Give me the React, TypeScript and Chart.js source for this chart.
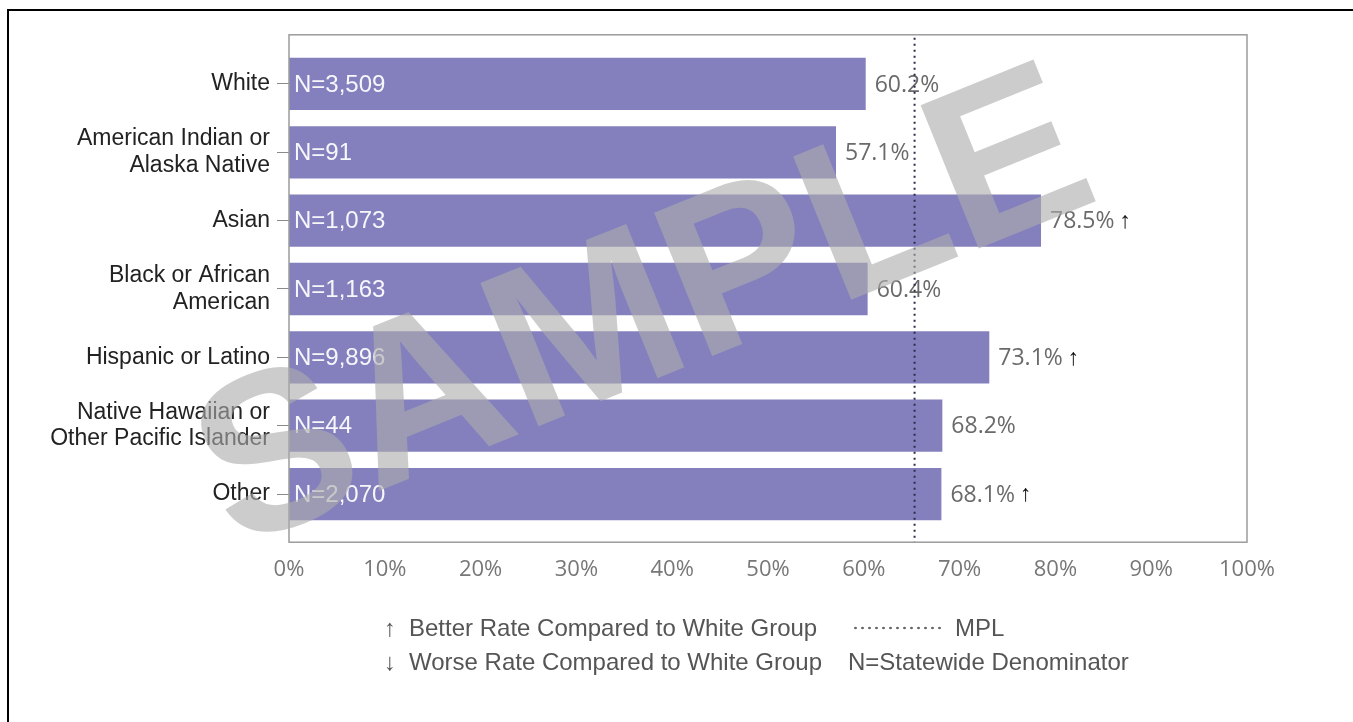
import React, { useEffect, useRef } from "react";
import { Chart, registerables } from "chart.js";

Chart.register(...registerables);

const PAGE_W = 1353;
const PAGE_H = 722;

const categoryLabels: string[][] = [
  ["White"],
  ["American Indian or", "Alaska Native"],
  ["Asian"],
  ["Black or African", "American"],
  ["Hispanic or Latino"],
  ["Native Hawaiian or", "Other Pacific Islander"],
  ["Other"],
];
const rateValues: number[] = [60.2, 57.1, 78.5, 60.4, 73.1, 68.2, 68.1];
const denominators: string[] = ["3,509", "91", "1,073", "1,163", "9,896", "44", "2,070"];
const betterThanWhite: boolean[] = [false, false, true, false, true, false, true];
const mplRate = 65.3;
const xTickValues: number[] = [0, 10, 20, 30, 40, 50, 60, 70, 80, 90, 100];
const watermarkText = "SAMPLE";

const BAR_COLOR = "#8480BE";

const overlayPlugin = {
  id: "overlay",
  afterDatasetsDraw(chart: any) {
    const ctx = chart.ctx as CanvasRenderingContext2D;
    const xs = chart.scales.x;
    const ys = chart.scales.y;
    const area = chart.chartArea;
    const frameTop = area.top - 15;
    const frameBottom = area.bottom + 14;

    ctx.save();
    // N labels inside bars
    ctx.font = "24px 'Liberation Sans', Arial, sans-serif";
    ctx.fillStyle = "rgba(255,255,255,0.93)";
    ctx.textAlign = "left";
    ctx.textBaseline = "middle";
    denominators.forEach((n, i) => {
      ctx.fillText("N=" + n, xs.getPixelForValue(0) + 5, ys.getPixelForValue(i) + 1);
    });

    // value labels with arrows
    rateValues.forEach((v, i) => {
      const x = xs.getPixelForValue(v) + 9;
      const y = ys.getPixelForValue(i) + 1;
      ctx.font = "23px 'Open Sans', sans-serif";
      ctx.fillStyle = "#6a6a6a";
      const txt = v.toFixed(1) + "%";
      ctx.fillText(txt, x, y);
      if (betterThanWhite[i]) {
        const w = ctx.measureText(txt).width;
        ctx.font = "23px 'Liberation Sans', Arial, sans-serif";
        ctx.fillStyle = "#111";
        ctx.fillText("\u2191", x + w + 5, y);
      }
    });

    // MPL dotted line
    const mx = xs.getPixelForValue(mplRate);
    ctx.strokeStyle = "#2c2c48";
    ctx.lineWidth = 2;
    ctx.setLineDash([2, 4]);
    ctx.beginPath();
    ctx.moveTo(mx, frameTop + 3);
    ctx.lineTo(mx, frameBottom);
    ctx.stroke();
    ctx.setLineDash([]);

    // plot frame
    ctx.strokeStyle = "#9c9c9c";
    ctx.lineWidth = 1.5;
    ctx.strokeRect(area.left, frameTop, area.right - area.left, frameBottom - frameTop);
    ctx.restore();
  },
  afterDraw(chart: any) {
    const ctx = chart.ctx as CanvasRenderingContext2D;
    ctx.save();
    ctx.translate(646, 316);
    ctx.rotate((-22 * Math.PI) / 180);
    ctx.font = "bold 225px 'Liberation Sans', Arial, sans-serif";
    ctx.textAlign = "center";
    ctx.textBaseline = "middle";
    ctx.fillStyle = "rgba(171,171,171,0.61)";
    ctx.fillText(watermarkText, 0, 0);
    ctx.restore();
  },
};

export default function App() {
  const canvasRef = useRef<HTMLCanvasElement | null>(null);

  useEffect(() => {
    if (!canvasRef.current) return;
    const chart = new Chart(canvasRef.current, {
      type: "bar",
      data: {
        labels: categoryLabels as any,
        datasets: [
          {
            data: rateValues,
            backgroundColor: BAR_COLOR,
            borderWidth: 0,
            categoryPercentage: 1,
            barPercentage: 0.765,
          },
        ],
      },
      options: {
        indexAxis: "y",
        responsive: false,
        animation: false,
        layout: { padding: { top: 49.8, right: 106, bottom: 133.8, left: 0 } },
        plugins: { legend: { display: false }, tooltip: { enabled: false } },
        scales: {
          x: {
            type: "linear",
            min: 0,
            max: 100,
            afterBuildTicks: (s: any) => {
              s.ticks = xTickValues.map((v) => ({ value: v }));
            },
            ticks: {
              callback: (v: any) => v + "%",
              color: "#777",
              font: { family: "'Open Sans', sans-serif", size: 22 },
              padding: 28,
              maxRotation: 0,
              autoSkip: false,
            },
            grid: { display: false, drawTicks: false },
            border: { display: false },
            afterFit: (s: any) => {
              s.height = 60;
            },
          },
          y: {
            type: "category",
            ticks: {
              color: "#222",
              font: { family: "'Liberation Sans', Arial, sans-serif", size: 23, lineHeight: 1.16 },
              padding: 7,
              autoSkip: false,
            },
            grid: {
              offset: false,
              drawOnChartArea: false,
              drawTicks: true,
              tickLength: 12,
              color: "#8a8a8a",
              lineWidth: 1,
            },
            border: { display: false },
            afterFit: (s: any) => {
              s.width = 289;
            },
          },
        },
      },
      plugins: [overlayPlugin],
    } as any);
    return () => chart.destroy();
  }, []);

  const legendText: React.CSSProperties = {
    position: "absolute",
    fontFamily: "'Liberation Sans', Arial, sans-serif",
    fontSize: 24,
    lineHeight: "24px",
    color: "#555",
    whiteSpace: "nowrap",
  };

  return (
    <div
      style={{
        position: "absolute",
        left: 0,
        top: 0,
        width: PAGE_W,
        height: PAGE_H,
        overflow: "hidden",
        background: "#fff",
      }}
    >
      <canvas
        ref={canvasRef}
        width={PAGE_W}
        height={PAGE_H}
        style={{ display: "block", width: PAGE_W, height: PAGE_H, position: "absolute", left: 0, top: 0 }}
      />
      <div
        style={{
          position: "absolute",
          left: 7,
          top: 9,
          width: 2000,
          height: 2000,
          borderLeft: "2px solid #000",
          borderTop: "2px solid #000",
          pointerEvents: "none",
        }}
      />
      <div style={{ ...legendText, left: 384, top: 616 }}>{"\u2191"}</div>
      <div style={{ ...legendText, left: 409, top: 616 }}>Better Rate Compared to White Group</div>
      <div
        style={{
          position: "absolute",
          left: 852,
          top: 626,
          width: 90,
          height: 4,
          backgroundImage: "radial-gradient(circle, #666 1px, transparent 1.6px)",
          backgroundSize: "7px 4px",
          backgroundRepeat: "repeat-x",
        }}
      />
      <div style={{ ...legendText, left: 955, top: 616 }}>MPL</div>
      <div style={{ ...legendText, left: 384, top: 650 }}>{"\u2193"}</div>
      <div style={{ ...legendText, left: 409, top: 650 }}>Worse Rate Compared to White Group</div>
      <div style={{ ...legendText, left: 848, top: 650 }}>N=Statewide Denominator</div>
    </div>
  );
}
